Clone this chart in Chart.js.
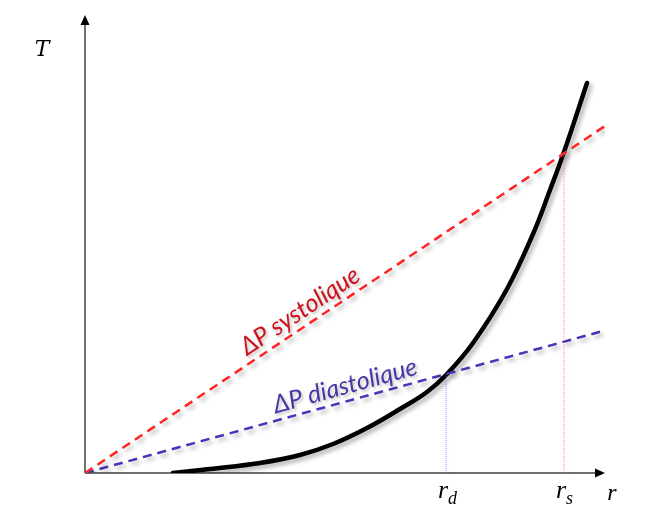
<!DOCTYPE html>
<html>
<head>
<meta charset="utf-8">
<script src="https://cdn.jsdelivr.net/npm/chart.js@4.4.1/dist/chart.umd.min.js"></script>
<style>
  html, body { margin: 0; padding: 0; background: #fff; }
  #wrap { width: 662px; height: 531px; }
</style>
</head>
<body>
<div id="wrap"><canvas id="chart" width="662" height="531"></canvas></div>
<script>
// black curve T(r)
const curveR = [88, 125, 175, 215, 248, 282, 315, 342, 362, 388, 422, 448, 465, 479, 502];
const curveT = [0, 4, 10, 18, 29, 45, 64, 81, 99, 130, 184, 239, 283, 321, 390];

// pressure lines (straight through the origin)
const sysR = [0, 520];
const sysT = [0, 347];
const diaR = [0, 518];
const diaT = [0, 142];

// intersection radii
const rd = 361, rdT = 99;
const rs = 479, rsT = 320;

const xMax = 520, yMax = 458;

function pts(xs, ys) {
    return xs.map((x, i) => ({ x: x, y: ys[i] }));
}

const shadowPlugin = {
    id: "shadow",
    beforeDatasetsDraw(chart) {
        const ctx = chart.ctx;
        ctx.save();
        ctx.shadowColor = "rgba(0,0,0,0.3)";
        ctx.shadowOffsetX = 3;
        ctx.shadowOffsetY = 3;
        ctx.shadowBlur = 4;
    },
    afterDatasetsDraw(chart) {
        chart.ctx.restore();
    }
};

const decoPlugin = {
    id: "deco",
    beforeDatasetsDraw(chart) {
        const ctx = chart.ctx;
        const xs = chart.scales.x, ys = chart.scales.y;
        const x0 = xs.getPixelForValue(0), y0 = ys.getPixelForValue(0);
        const xEnd = xs.getPixelForValue(xMax), yEnd = ys.getPixelForValue(yMax);
        ctx.save();
        ctx.strokeStyle = "#404040";
        ctx.fillStyle = "#000";
        ctx.lineWidth = 1.5;
        ctx.beginPath();
        ctx.moveTo(x0, y0);
        ctx.lineTo(xEnd - 6, y0);
        ctx.moveTo(x0, y0);
        ctx.lineTo(x0, yEnd + 6);
        ctx.stroke();
        // arrow heads
        ctx.beginPath();
        ctx.moveTo(xEnd, y0);
        ctx.lineTo(xEnd - 10, y0 - 4.5);
        ctx.lineTo(xEnd - 10, y0 + 4.5);
        ctx.closePath();
        ctx.fill();
        ctx.beginPath();
        ctx.moveTo(x0, yEnd);
        ctx.lineTo(x0 - 4.5, yEnd + 10);
        ctx.lineTo(x0 + 4.5, yEnd + 10);
        ctx.closePath();
        ctx.fill();
        ctx.restore();
    },
    afterDraw(chart) {
        const ctx = chart.ctx;
        const xs = chart.scales.x, ys = chart.scales.y;
        ctx.save();
        ctx.fillStyle = "#000";
        ctx.textBaseline = "alphabetic";
        ctx.textAlign = "center";
        ctx.font = "italic 22px 'DejaVu Serif', serif";
        ctx.fillText("T", 42, 56);
        ctx.font = "italic 24px 'Liberation Serif', serif";
        ctx.fillText("r", 612, 500);
        // r_d and r_s
        const labs = [[rd, "d"], [rs, "s"]];
        labs.forEach(([v, sub]) => {
            const px = xs.getPixelForValue(v);
            ctx.font = "italic 26px 'Liberation Serif', serif";
            ctx.textAlign = "right";
            ctx.fillText("r", px + 2, 498);
            ctx.font = "italic 18px 'Liberation Serif', serif";
            ctx.textAlign = "left";
            ctx.fillText(sub, px + 2, 504);
        });

        // rotated line labels
        ctx.shadowColor = "rgba(0,0,0,0.25)";
        ctx.shadowOffsetX = 2;
        ctx.shadowOffsetY = 2;
        ctx.shadowBlur = 3;
        const drawRot = (text, cx, cy, dr, dt, color) => {
            const ang = Math.atan2(ys.getPixelForValue(dt) - ys.getPixelForValue(0),
                                   xs.getPixelForValue(dr) - xs.getPixelForValue(0));
            ctx.save();
            ctx.translate(cx, cy);
            ctx.rotate(ang);
            ctx.font = "italic 25px Lato, sans-serif";
            ctx.textAlign = "center";
            ctx.textBaseline = "middle";
            ctx.fillStyle = color;
            ctx.fillText(text, 0, 0);
            ctx.restore();
        };
        drawRot("ΔP systolique", 300, 311, sysR[1], sysT[1], "#d0101a");
        drawRot("ΔP diastolique", 345, 386, diaR[1], diaT[1], "#4a35a8");
        ctx.restore();
    }
};

new Chart(document.getElementById("chart"), {
    type: "scatter",
    data: {
        datasets: [
            {
                data: pts([rd, rd], [0, rdT]),
                showLine: true,
                borderColor: "rgba(110,110,255,0.8)",
                borderWidth: 1,
                borderDash: [1, 1],
                pointRadius: 0
            },
            {
                data: pts([rs, rs], [0, rsT]),
                showLine: true,
                borderColor: "rgba(255,110,110,0.8)",
                borderWidth: 1,
                borderDash: [1, 1],
                pointRadius: 0
            },
            {
                data: pts(sysR, sysT),
                showLine: true,
                borderColor: "#ff2424",
                borderWidth: 2.5,
                borderDash: [9, 6],
                pointRadius: 0
            },
            {
                data: pts(diaR, diaT),
                showLine: true,
                borderColor: "#4b32b8",
                borderWidth: 2.5,
                borderDash: [9, 6],
                pointRadius: 0
            },
            {
                data: pts(curveR, curveT),
                showLine: true,
                borderColor: "#000",
                borderWidth: 4.5,
                borderCapStyle: "round",
                tension: 0.4,
                pointRadius: 0
            }
        ]
    },
    options: {
        responsive: false,
        animation: false,
        layout: { padding: { left: 85, right: 57, top: 15, bottom: 58 } },
        plugins: {
            legend: { display: false },
            tooltip: { enabled: false }
        },
        scales: {
            x: { type: "linear", min: 0, max: xMax, display: false },
            y: { type: "linear", min: 0, max: yMax, display: false }
        }
    },
    plugins: [decoPlugin, shadowPlugin]
});
</script>
</body>
</html>
